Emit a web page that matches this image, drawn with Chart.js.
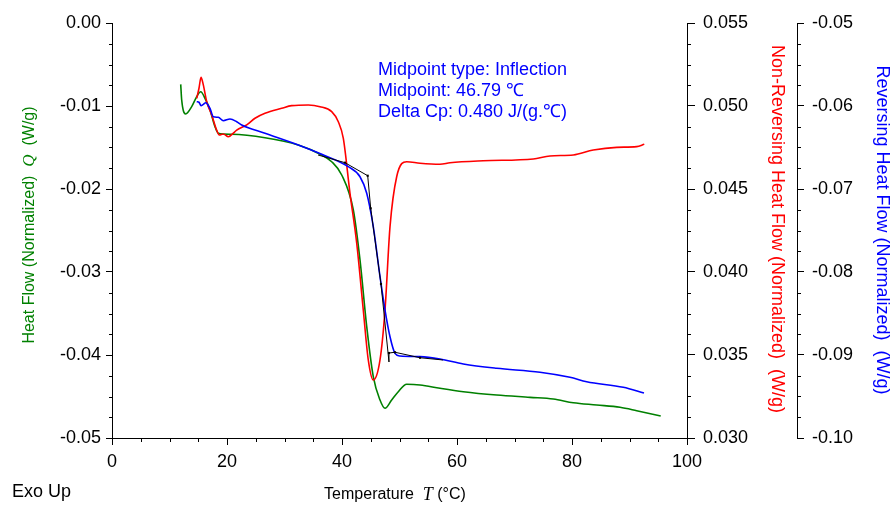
<!DOCTYPE html>
<html>
<head>
<meta charset="utf-8">
<script src="https://cdn.jsdelivr.net/npm/chart.js@4"></script>
<style>
  html, body { margin: 0; padding: 0; background: #fff; }
</style>
</head>
<body>
<canvas id="chart" width="891" height="505"></canvas>
<script>
// tick labels
const xTicks = [0, 20, 40, 60, 80, 100];
const heatFlowTicks = [-0.05, -0.04, -0.03, -0.02, -0.01, 0];
const nonRevTicks = [0.030, 0.035, 0.040, 0.045, 0.050, 0.055];
const revTicks = [-0.10, -0.09, -0.08, -0.07, -0.06, -0.05];

// Heat Flow (green, left axis)
const tempHeat = [11.95, 12.12, 12.82, 13.86, 14.73, 15.43, 16.17, 17.04, 17.91, 18.49, 20.82, 26.61, 32.4, 36.47, 38.21, 39.95, 41.97, 43.13, 44.3, 45.44, 46.61, 47.48, 48.64, 49.79, 51.25, 53.57, 57.04, 61.1, 66.9, 72.7, 76.75, 80.23, 84.3, 88.35, 91.25, 95.43];
const heatFlow = [-0.00739, -0.00928, -0.01096, -0.01008, -0.00888, -0.00828, -0.00907, -0.01048, -0.01249, -0.01329, -0.01341, -0.01382, -0.0147, -0.0159, -0.01671, -0.01831, -0.02253, -0.02855, -0.03659, -0.04261, -0.04542, -0.04642, -0.04542, -0.04442, -0.04353, -0.04361, -0.04401, -0.04442, -0.04482, -0.0451, -0.0453, -0.04575, -0.04602, -0.0463, -0.04671, -0.04735];

// Non-Reversing Heat Flow (red, first right axis)
const tempNonRev = [14.73, 15.13, 15.48, 15.88, 16.47, 17.34, 18.2, 18.66, 19.36, 20.23, 21.1, 21.69, 23.43, 24.87, 26.61, 29.51, 31.25, 34.14, 36.17, 38.21, 39.36, 40.23, 41.39, 42.56, 43.7, 44.57, 45.44, 46.61, 47.48, 48.35, 49.51, 51.25, 53.57, 57.04, 58.78, 64.57, 73.27, 76.17, 80.23, 83.7, 87.77, 91.25, 92.57];
const nonRevFlow = [0.05046, 0.05107, 0.05173, 0.05127, 0.05026, 0.04946, 0.04855, 0.04825, 0.04831, 0.04815, 0.04836, 0.04855, 0.04886, 0.04926, 0.04956, 0.04986, 0.05002, 0.05006, 0.04996, 0.04966, 0.04905, 0.04805, 0.04474, 0.04173, 0.03771, 0.0347, 0.03349, 0.0347, 0.03771, 0.04273, 0.04574, 0.04664, 0.04655, 0.04649, 0.04658, 0.0467, 0.04681, 0.04699, 0.04705, 0.04735, 0.04751, 0.04755, 0.04769];

// Reversing Heat Flow (blue, second right axis)
const tempRev = [14.73, 15.13, 15.48, 15.88, 16.3, 17.04, 17.62, 18.49, 19.36, 20.52, 21.69, 22.56, 26.61, 32.4, 36.47, 41.1, 43.13, 44.3, 45.44, 46.61, 47.48, 48.35, 49.22, 50.09, 53.57, 57.04, 61.1, 66.9, 74.43, 79.65, 82.56, 88.92, 92.52];
const revFlow = [-0.05948, -0.05955, -0.05996, -0.0598, -0.0596, -0.06028, -0.06129, -0.06136, -0.06177, -0.06157, -0.06189, -0.06229, -0.06329, -0.0647, -0.06582, -0.06731, -0.06852, -0.07052, -0.07454, -0.08057, -0.08458, -0.0878, -0.0898, -0.09012, -0.0902, -0.09048, -0.09108, -0.0916, -0.09208, -0.09269, -0.09322, -0.09389, -0.09458];

// glass transition construction lines (black, on reversing axis)
const tempTangent = [35.83, 40.52, 44.47, 44.99, 46.78, 48.17, 48.17, 49.22, 53.57, 57.57];
const tangentFlow = [-0.0659, -0.06683, -0.0684, -0.07233, -0.08145, -0.09084, -0.08976, -0.08967, -0.09033, -0.0906];
const tangentMarks = [0, 1.5, 1.5, 1.5, 1.5, 0, 1.5, 1.5, 1.5, 0];

const noteLines = ['Midpoint type: Inflection', 'Midpoint: 46.79 \u2103', 'Delta Cp: 0.480 J/(g.\u2103)'];

const SANS = "'Liberation Sans', Arial, sans-serif";
const SERIF = "'Liberation Serif', 'Times New Roman', serif";

function pts(xs, ys) {
  return xs.map((x, i) => ({ x: x, y: ys[i] }));
}

function fixTicks(list) {
  return scale => { scale.ticks = list.map(v => ({ value: v })); };
}

function drawParts(c, parts, cx, cy, rot) {
  c.save();
  c.translate(cx, cy);
  c.rotate(rot);
  c.textBaseline = 'middle';
  c.textAlign = 'left';
  let total = 0;
  parts.forEach(p => { c.font = p.font; total += c.measureText(p.text).width; });
  let x = -total / 2;
  parts.forEach(p => {
    c.font = p.font;
    c.fillStyle = p.color;
    c.fillText(p.text, x, 0);
    x += c.measureText(p.text).width;
  });
  c.restore();
}

const extras = {
  id: 'extras',
  afterDraw(chart) {
    const c = chart.ctx;
    const { x, y, y1, y2 } = chart.scales;
    c.save();
    c.strokeStyle = '#000';
    c.lineWidth = 1;
    c.beginPath();
    // minor ticks
    for (let i = 1; i < 20; i++) {
      if (i % 4 === 0) continue;
      const px = Math.round(x.getPixelForValue(i * 5)) + 0.5;
      c.moveTo(px, x.top); c.lineTo(px, x.top + 4);
    }
    for (let i = 1; i < 20; i++) {
      if (i % 4 === 0) continue;
      let py = Math.round(y.getPixelForValue(-0.05 + i * 0.0025)) + 0.5;
      c.moveTo(y.right, py); c.lineTo(y.right - 3, py);
      py = Math.round(y1.getPixelForValue(0.030 + i * 0.00125)) + 0.5;
      c.moveTo(y1.left, py); c.lineTo(y1.left + 4, py);
      py = Math.round(y2.getPixelForValue(-0.10 + i * 0.0025)) + 0.5;
      c.moveTo(y2.left, py); c.lineTo(y2.left + 4, py);
    }
    c.stroke();

    // note
    c.font = '18px ' + SANS;
    c.fillStyle = '#0000ff';
    c.textBaseline = 'middle';
    c.textAlign = 'left';
    noteLines.forEach((t, i) => c.fillText(t, 378, 70 + i * 20.8));

    c.fillStyle = '#000';
    c.fillText('Exo Up', 12, 492);
    c.restore();

    drawParts(c, [
      { text: 'Heat Flow (Normalized)  ', font: '16px ' + SANS, color: '#008000' },
      { text: 'Q', font: 'italic 17px ' + SERIF, color: '#008000' },
      { text: '  (W/g)', font: '16px ' + SANS, color: '#008000' }
    ], 30, 225, -Math.PI / 2);

    drawParts(c, [
      { text: 'Temperature  ', font: '16px ' + SANS, color: '#000' },
      { text: 'T', font: 'italic 18px ' + SERIF, color: '#000' },
      { text: ' (\u00b0C)', font: '16px ' + SANS, color: '#000' }
    ], 395, 495, 0);

    drawParts(c, [
      { text: 'Non-Reversing Heat Flow (Normalized)  (W/g)', font: '18px ' + SANS, color: '#ff0000' }
    ], 777, 229, Math.PI / 2);

    drawParts(c, [
      { text: 'Reversing Heat Flow (Normalized)  (W/g)', font: '18px ' + SANS, color: '#0000ff' }
    ], 882, 230, Math.PI / 2);
  }
};

const tickFont = { family: SANS, size: 18 };

new Chart(document.getElementById('chart'), {
  type: 'line',
  data: {
    datasets: [
      {
        data: pts(tempTangent, tangentFlow), yAxisID: 'y2',
        borderColor: '#000', borderWidth: 1, tension: 0,
        pointRadius: tangentMarks, pointStyle: 'rect',
        pointBackgroundColor: '#000', pointBorderWidth: 0
      },
      {
        data: pts(tempRev, revFlow), yAxisID: 'y2',
        borderColor: '#0000ff', borderWidth: 1.6, pointRadius: 0,
        cubicInterpolationMode: 'monotone'
      },
      {
        data: pts(tempNonRev, nonRevFlow), yAxisID: 'y1',
        borderColor: '#ff0000', borderWidth: 1.6, pointRadius: 0,
        cubicInterpolationMode: 'monotone'
      },
      {
        data: pts(tempHeat, heatFlow), yAxisID: 'y',
        borderColor: '#008000', borderWidth: 1.6, pointRadius: 0,
        cubicInterpolationMode: 'monotone'
      }
    ]
  },
  options: {
    responsive: false,
    animation: false,
    devicePixelRatio: 1,
    layout: { padding: { top: 23, left: 0, right: 0, bottom: 0 } },
    plugins: {
      legend: { display: false },
      tooltip: { enabled: false }
    },
    scales: {
      x: {
        type: 'linear', min: 0, max: 100,
        afterBuildTicks: fixTicks(xTicks),
        afterFit: s => { s.height = 67; },
        ticks: { color: '#000', font: tickFont, padding: 6, maxRotation: 0, autoSkip: false },
        grid: { drawOnChartArea: false, tickLength: 7, color: '#000' },
        border: { color: '#000' }
      },
      y: {
        type: 'linear', position: 'left', min: -0.05, max: 0,
        afterBuildTicks: fixTicks(heatFlowTicks),
        afterFit: s => { s.width = 112; },
        ticks: { color: '#000', font: tickFont, padding: 5, callback: v => v.toFixed(2) },
        grid: { drawOnChartArea: false, tickLength: 6, color: '#000' },
        border: { color: '#000' }
      },
      y1: {
        type: 'linear', position: 'right', min: 0.030, max: 0.055,
        afterBuildTicks: fixTicks(nonRevTicks),
        afterFit: s => { s.width = 110; },
        ticks: { color: '#000', font: tickFont, padding: 8, callback: v => v.toFixed(3) },
        grid: { drawOnChartArea: false, tickLength: 8, color: '#000' },
        border: { color: '#000' }
      },
      y2: {
        type: 'linear', position: 'right', min: -0.10, max: -0.05,
        afterBuildTicks: fixTicks(revTicks),
        afterFit: s => { s.width = 94; },
        ticks: { color: '#000', font: tickFont, padding: 8, callback: v => v.toFixed(2) },
        grid: { drawOnChartArea: false, tickLength: 7, color: '#000' },
        border: { color: '#000' }
      }
    }
  },
  plugins: [extras]
});
</script>
</body>
</html>
